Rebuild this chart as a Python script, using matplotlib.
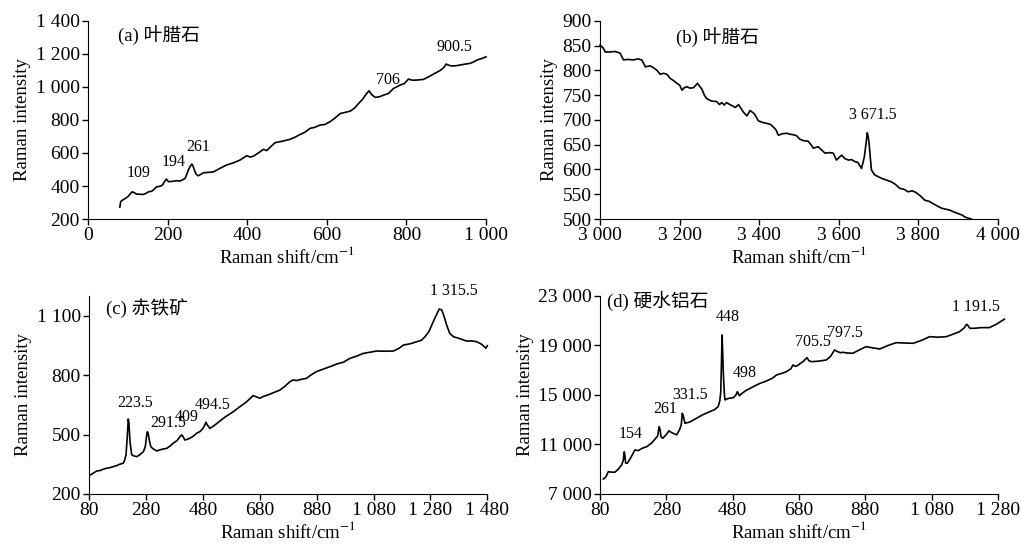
import matplotlib
matplotlib.use("Agg")
import matplotlib.pyplot as plt
from matplotlib.ticker import FuncFormatter

plt.rcParams['font.family'] = ['Liberation Serif', 'Noto Sans CJK SC']
plt.rcParams['mathtext.fontset'] = 'stix'

# (a) pyrophyllite, low wavenumber
a_x = [80, 82, 87, 94, 100, 106, 111, 116, 122, 130, 139, 146, 152, 160, 166, 172, 180, 187, 193, 197,
       202, 212, 222, 231, 238, 244, 248, 252, 257, 261, 264, 268, 272, 277, 283, 290, 300, 315, 330,
       348, 365, 382, 390, 399, 408, 416, 428, 441, 449, 460, 470, 490, 507, 520, 533, 545, 558, 570,
       583, 595, 608, 620, 634, 645, 659, 670, 680, 690, 697, 702, 706, 710, 714, 722, 732, 743, 755,
       768, 776, 784, 795, 805, 815, 826, 835, 843, 855, 868, 878, 889, 895, 900, 905, 914, 925, 935,
       948, 960, 968, 977, 990, 1000]
a_y = [272, 305, 315, 325, 335, 352, 365, 360, 351, 350, 349, 356, 365, 368, 380, 395, 398, 405, 430, 442,
       426, 428, 432, 430, 438, 446, 470, 496, 520, 533, 520, 492, 470, 462, 470, 480, 482, 485, 505,
       527, 540, 557, 570, 583, 575, 581, 600, 622, 614, 640, 662, 672, 682, 695, 712, 725, 749, 755,
       769, 772, 789, 810, 839, 845, 853, 872, 900, 925, 950, 965, 976, 962, 950, 936, 940, 950, 960,
       991, 1000, 1011, 1020, 1047, 1040, 1041, 1043, 1045, 1060, 1077, 1090, 1106, 1120, 1138, 1132,
       1126, 1128, 1132, 1138, 1142, 1150, 1162, 1172, 1182]
a_peaks = ['109', '194', '261', '706', '900.5']
a_peak_x = [126, 214, 277, 754, 920]
a_peak_y = [478, 545, 636, 1041, 1241]

# (b) pyrophyllite, OH region
b_x = [3000, 3008, 3013, 3025, 3037, 3050, 3059, 3070, 3084, 3095, 3105, 3114, 3125, 3131, 3143, 3151,
       3160, 3168, 3176, 3185, 3193, 3200, 3206, 3212, 3218, 3226, 3235, 3245, 3250, 3256, 3262, 3268,
       3280, 3293, 3300, 3306, 3312, 3318, 3324, 3331, 3340, 3348, 3355, 3360, 3369, 3377, 3388, 3398,
       3408, 3419, 3428, 3435, 3442, 3448, 3458, 3469, 3478, 3486, 3494, 3502, 3512, 3523, 3530, 3536,
       3548, 3556, 3565, 3576, 3586, 3594, 3607, 3615, 3624, 3632, 3640, 3648, 3657, 3661, 3664, 3668,
       3671.5, 3674, 3676, 3679, 3682, 3690, 3700, 3711, 3722, 3732, 3742, 3753, 3764, 3774, 3785,
       3795, 3806, 3816, 3826, 3837, 3848, 3858, 3868, 3879, 3890, 3900, 3910, 3917, 3925, 3933]
b_y = [851, 845, 837, 837, 838, 835, 821, 822, 821, 823, 821, 807, 809, 807, 800, 792, 794, 792, 784, 779,
       774, 770, 760, 765, 767, 764, 765, 774, 768, 762, 750, 743, 738, 737, 731, 735, 730, 735, 732,
       729, 725, 731, 722, 716, 708, 719, 712, 698, 695, 693, 691, 686, 680, 669, 672, 673, 671, 670,
       668, 661, 658, 657, 650, 643, 646, 640, 633, 634, 633, 619, 629, 622, 619, 620, 616, 614, 602,
       615, 625, 650, 674, 665, 653, 625, 599, 589, 585, 581, 578, 575, 570, 562, 560, 555, 557, 553,
       546, 538, 536, 531, 526, 522, 520, 518, 514, 511, 508, 504, 502, 500]
b_peaks = ['3 671.5']
b_peak_x = [3686]
b_peak_y = [710]

# (c) hematite
c_x = [84, 95, 107, 118, 130, 142, 154, 165, 177, 188, 200, 205, 210, 214, 218, 220, 224, 230, 238, 248,
       260, 271, 278, 282, 285, 288, 292, 297, 305, 318, 335, 353, 365, 376, 390, 400, 406, 411, 417,
       430, 445, 458, 470, 480, 487, 491, 497, 505, 520, 540, 560, 587, 610, 634, 645, 657, 668, 680,
       693, 710, 730, 751, 770, 785, 797, 810, 825, 844, 860, 879, 900, 927, 950, 975, 997, 1020, 1044,
       1068, 1091, 1120, 1150, 1170, 1185, 1210, 1232, 1248, 1261, 1275, 1290, 1300, 1311, 1320, 1328,
       1337, 1348, 1361, 1380, 1408, 1425, 1443, 1460, 1475, 1480]
c_y = [296, 305, 316, 318, 325, 330, 333, 338, 343, 350, 355, 370, 397, 480, 578, 560, 464, 397, 392, 388,
       400, 413, 440, 490, 514, 505, 470, 439, 428, 417, 425, 430, 442, 456, 470, 490, 498, 488, 472,
       478, 490, 506, 515, 530, 548, 562, 545, 531, 545, 568, 590, 615, 640, 665, 680, 696, 690, 683,
       692, 700, 712, 724, 745, 765, 775, 772, 778, 783, 800, 817, 828, 842, 855, 865, 884, 895, 909,
       915, 921, 920, 921, 935, 951, 958, 968, 975, 993, 1020, 1069, 1100, 1133, 1128, 1095, 1052,
       1010, 993, 985, 971, 972, 968, 955, 935, 948]
c_peaks = ['223.5', '291.5', '409', '494.5', '1 315.5']
c_peak_x = [242, 359, 423, 515, 1364]
c_peak_y = [660, 557, 590, 649, 1224]

# (d) diaspore
d_x = [90, 97, 105, 115, 125, 135, 145, 150, 153, 155, 157, 162, 172, 185, 195, 208, 221, 235, 248, 254,
       258, 261, 264, 269, 280, 288, 291, 300, 311, 320, 325, 328, 331, 336, 350, 371, 390, 411, 425,
       436, 441, 444, 446, 448, 450, 452, 455, 457, 465, 482, 490, 494, 497, 500, 507, 520, 542, 560,
       582, 600, 612, 630, 642, 655, 662, 668, 675, 682, 693, 700, 704, 710, 717, 740, 762, 775, 782,
       787, 795, 805, 812, 825, 842, 860, 882, 900, 923, 950, 973, 1000, 1024, 1050, 1074, 1100, 1124,
       1145, 1164, 1178, 1185, 1189, 1195, 1209, 1230, 1254, 1275, 1299]
d_y = [8211, 8350, 8800, 8760, 8760, 9000, 9340, 9700, 10400, 10100, 9500, 9477, 9900, 10551, 10500,
       10700, 10820, 11100, 11495, 11700, 12430, 12200, 11600, 11495, 11800, 12100, 12027, 11900, 11765,
       12200, 12600, 13512, 13300, 12707, 12800, 13110, 13400, 13643, 13800, 14045, 14500, 15256,
       17500, 19832, 18200, 16603, 15000, 14586, 14700, 14773, 15000, 15256, 15100, 14934, 15100,
       15350, 15659, 15900, 16119, 16350, 16603, 16750, 16872, 17100, 17410, 17300, 17356, 17500,
       17700, 17900, 18000, 17750, 17676, 17720, 17813, 18100, 18400, 18620, 18500, 18400, 18432,
       18380, 18352, 18600, 18888, 18800, 18700, 19000, 19210, 19180, 19157, 19400, 19694, 19650,
       19694, 19900, 20097, 20400, 20693, 20600, 20370, 20370, 20424, 20424, 20700, 21100]
d_peaks = ['154', '261', '331.5', '448', '498', '705.5', '797.5', '1 191.5']
d_peak_x = [172, 277, 351, 465, 517, 723, 818, 1214]
d_peak_y = [11817, 13860, 14990, 21300, 16740, 19290, 19970, 22115]


def spaced(v, pos):
    s = '%d' % v
    if abs(v) >= 1000:
        s = s[:-3] + ' ' + s[-3:]
    return s


fig = plt.figure(figsize=(10.21, 5.49), dpi=100)
axes = [fig.add_axes([0.0862, 0.601, 0.3898, 0.3612]),
        fig.add_axes([0.5877, 0.601, 0.3898, 0.3612]),
        fig.add_axes([0.0872, 0.1002, 0.3901, 0.3612]),
        fig.add_axes([0.5877, 0.1002, 0.3898, 0.3612])]

panels = [
    (a_x, a_y, a_peaks, a_peak_x, a_peak_y, '(a) 叶腊石', (0, 1000), range(0, 1001, 200),
     (200, 1400), range(200, 1401, 200), (75, 1314)),
    (b_x, b_y, b_peaks, b_peak_x, b_peak_y, '(b) 叶腊石', (3000, 4000), range(3000, 4001, 200),
     (500, 900), range(500, 901, 50), (3191, 868)),
    (c_x, c_y, c_peaks, c_peak_x, c_peak_y, '(c) 赤铁矿', (80, 1480), range(80, 1481, 200),
     (200, 1200), range(200, 1101, 300), (140, 1136)),
    (d_x, d_y, d_peaks, d_peak_x, d_peak_y, '(d) 硬水铝石', (80, 1280), range(80, 1281, 200),
     (7000, 23000), range(7000, 23001, 4000), (102, 22575)),
]

for ax, (x, y, labs, px, py, title, xl, xt, yl, yt, tpos) in zip(axes, panels):
    ax.plot(x, y, color='black', lw=1.2, clip_on=False)
    for t, tx, ty in zip(labs, px, py):
        ax.text(tx, ty, t, fontsize=11.5, ha='center', va='center')
    ax.text(tpos[0], tpos[1], title, fontsize=13.5, ha='left', va='center')
    ax.set_xlim(*xl)
    ax.set_ylim(*yl)
    ax.set_xticks(list(xt))
    ax.set_yticks(list(yt))
    ax.xaxis.set_major_formatter(FuncFormatter(spaced))
    ax.yaxis.set_major_formatter(FuncFormatter(spaced))
    ax.spines['top'].set_visible(False)
    ax.spines['right'].set_visible(False)
    ax.tick_params(direction='out', length=4, width=1, labelsize=14, pad=2)
    ax.set_xlabel('Raman shift/cm$^{-1}$', fontsize=13.5, labelpad=1)
    ax.set_ylabel('Raman intensity', fontsize=13.5, labelpad=3)

fig.savefig('out.png', dpi=100)
